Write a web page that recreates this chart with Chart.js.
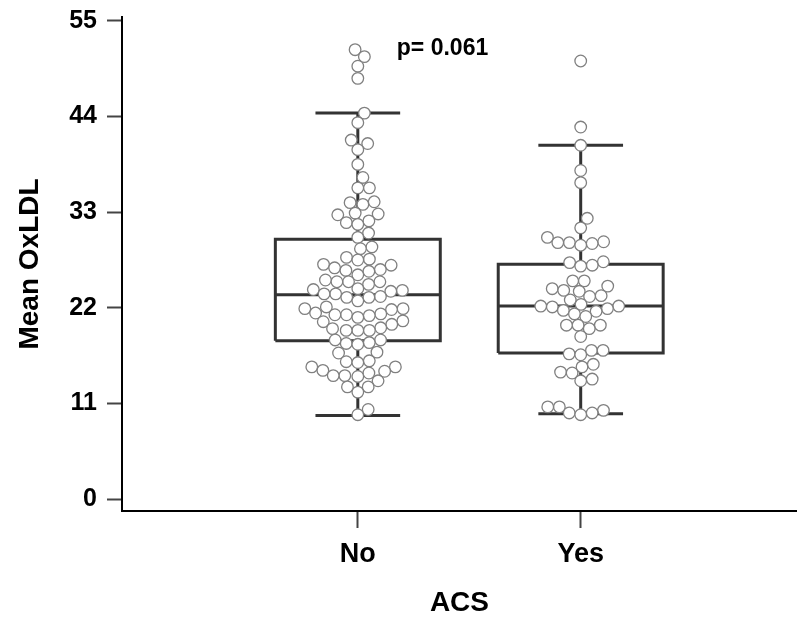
<!DOCTYPE html>
<html>
<head>
<meta charset="utf-8">
<script src="https://cdn.jsdelivr.net/npm/chart.js@4/dist/chart.umd.min.js"></script>
<style>
  html, body { margin: 0; padding: 0; background: #fff; }
  #wrap { width: 804px; height: 617px; }
</style>
</head>
<body>
<div id="wrap"><canvas id="oxChart"></canvas></div>
<script>
// values
const categories = ["No", "Yes"];
const yTickValues = [0, 11, 22, 33, 44, 55];

const noValues = [
    51.7, 50.9, 49.8, 48.4, 44.4, 43.3, 41.3, 40.9, 40.2, 38.5, 37.0, 35.8, 35.8,
    34.2, 34.1, 33.9, 32.9, 32.8, 32.7, 32.0, 31.8, 31.6,
    30.6, 30.1, 29.0, 28.8, 27.8, 27.6, 27.5, 27.0, 26.9,
    26.6, 26.4, 26.3, 26.2, 25.8, 25.2, 25.0, 25.0, 25.0, 24.7,
    24.2, 24.1, 24.0, 23.9, 23.6, 23.6, 23.3, 23.2, 23.2, 22.8,
    22.1, 21.9, 21.9, 21.8, 21.4, 21.3, 21.2, 21.2, 21.1,
    20.9, 20.5, 20.4, 20.1, 19.7, 19.6, 19.4, 19.4, 19.4,
    18.3, 18.3, 18.0, 17.9, 17.8, 16.9, 16.8, 15.9, 15.8, 15.7,
    15.2, 15.2, 14.8, 14.7, 14.5, 14.2, 14.2, 14.1, 13.6,
    12.9, 12.9, 12.3, 10.3, 9.7
];
const yesValues = [
    50.4, 42.8, 40.7, 37.8, 36.4, 32.3, 31.2, 30.1, 29.6, 29.5, 29.5, 29.4, 29.2,
    27.3, 27.2, 26.9, 26.8, 25.1, 25.1, 24.5, 24.2, 24.0, 23.9, 23.4, 23.3, 22.9,
    22.4, 22.2, 22.2, 22.1, 21.9, 21.7, 21.6, 21.3, 21.0,
    20.0, 20.0, 20.0, 19.6, 18.7, 17.1, 17.1, 16.7, 16.6, 15.5, 15.2, 14.6, 14.5,
    13.8, 13.6, 10.6, 10.6, 10.2, 9.9, 9.9, 9.7
];

const whiskerLow = [9.6, 9.8];
const boxQ1 = [18.2, 16.8];
const boxMedian = [23.5, 22.2];
const boxQ3 = [29.9, 27.0];
const whiskerHigh = [44.4, 40.7];
const pValueText = "p= 0.061";

Chart.defaults.font.family = "'Liberation Sans', Arial, sans-serif";
Chart.defaults.color = "#000";

const BOX_HALF = 0.37;   // box half width, in category units
const CAP_HALF = 0.19;   // whisker cap half width
const DOT_R = 5.8;

// box outlines, medians and whiskers as one broken line
function buildBoxSegments() {
    const pts = [];
    const seg = (arr) => { arr.forEach(p => pts.push(p)); pts.push({ x: arr[0].x, y: null }); };
    categories.forEach((c, i) => {
        const x = i + 1;
        seg([
            { x: x - BOX_HALF, y: boxQ1[i] }, { x: x + BOX_HALF, y: boxQ1[i] },
            { x: x + BOX_HALF, y: boxQ3[i] }, { x: x - BOX_HALF, y: boxQ3[i] },
            { x: x - BOX_HALF, y: boxQ1[i] }
        ]);
        seg([{ x: x - BOX_HALF, y: boxMedian[i] }, { x: x + BOX_HALF, y: boxMedian[i] }]);
        seg([{ x: x, y: boxQ3[i] }, { x: x, y: whiskerHigh[i] }]);
        seg([{ x: x - CAP_HALF, y: whiskerHigh[i] }, { x: x + CAP_HALF, y: whiskerHigh[i] }]);
        seg([{ x: x, y: boxQ1[i] }, { x: x, y: whiskerLow[i] }]);
        seg([{ x: x - CAP_HALF, y: whiskerLow[i] }, { x: x + CAP_HALF, y: whiskerLow[i] }]);
    });
    return pts;
}

// simple beeswarm: place each dot as close to the centre line as it can go
function swarmOffsets(values, yScale, d) {
    const placed = [];
    const out = new Array(values.length).fill(0);
    const order = values.map((v, i) => i).sort((a, b) => values[a] - values[b]);
    order.forEach(i => {
        const py = yScale.getPixelForValue(values[i]);
        const near = placed.filter(p => Math.abs(p.py - py) < d);
        const cands = [0];
        near.forEach(p => {
            const h = Math.sqrt(d * d - (p.py - py) * (p.py - py));
            cands.push(p.dx + h, p.dx - h);
        });
        cands.sort((a, b) => Math.abs(a) - Math.abs(b));
        const dx = cands.find(c => near.every(p => (p.dx - c) ** 2 + (p.py - py) ** 2 >= d * d - 0.01));
        out[i] = dx;
        placed.push({ py, dx });
    });
    return out;
}

const groups = [noValues, yesValues];
const dotData = [];
groups.forEach((vals, i) => vals.forEach(v => dotData.push({ x: i + 1, y: v })));

const pValuePlugin = {
    id: 'pValue',
    afterDatasetsDraw(chart) {
        const { ctx, scales: { x, y } } = chart;
        ctx.save();
        ctx.font = "bold 23px 'Liberation Sans', Arial, sans-serif";
        ctx.fillStyle = '#000';
        ctx.textAlign = 'center';
        ctx.textBaseline = 'middle';
        ctx.fillText(pValueText, x.getPixelForValue(1.38), y.getPixelForValue(51.8));
        ctx.restore();
    }
};

const ctx = document.getElementById('oxChart').getContext('2d');
const chart = new Chart(ctx, {
    type: 'scatter',
    data: {
        datasets: [
            {
                label: 'points',
                data: dotData,
                order: 0,
                pointRadius: DOT_R,
                pointBorderWidth: 1.3,
                pointBorderColor: '#808080',
                pointBackgroundColor: '#fff'
            },
            {
                label: 'boxes',
                type: 'line',
                data: buildBoxSegments(),
                order: 1,
                showLine: true,
                spanGaps: false,
                borderColor: '#333',
                borderWidth: 3,
                borderJoinStyle: 'miter',
                pointRadius: 0,
                tension: 0
            }
        ]
    },
    options: {
        responsive: true,
        maintainAspectRatio: false,
        animation: false,
        events: [],
        layout: { padding: { top: 17, left: 0, right: 0, bottom: 0 } },
        plugins: {
            legend: { display: false },
            tooltip: { enabled: false }
        },
        scales: {
            x: {
                type: 'linear',
                min: -0.058,
                max: 2.97,
                afterBuildTicks: (scale) => { scale.ticks = categories.map((c, i) => ({ value: i + 1 })); },
                afterFit: (scale) => {
                    scale.height = 106;
                    scale.paddingLeft = 0;
                    scale.paddingRight = 0;
                },
                ticks: {
                    font: { size: 27, weight: 'bold' },
                    padding: 10,
                    callback: (v) => categories[v - 1]
                },
                grid: { drawOnChartArea: false, drawTicks: true, tickLength: 17, tickWidth: 2, tickColor: '#444' },
                border: { display: true, color: '#000', width: 2 },
                title: {
                    display: true,
                    text: 'ACS',
                    font: { size: 28, weight: 'bold', lineHeight: 1 },
                    padding: { top: 0, bottom: 0 }
                }
            },
            y: {
                min: -1.38,
                max: 55.46,
                afterBuildTicks: (scale) => { scale.ticks = yTickValues.map(v => ({ value: v })); },
                afterFit: (scale) => {
                    scale.width = 122;
                    scale.paddingTop = 0;
                    scale.paddingBottom = 0;
                },
                ticks: {
                    font: { size: 25, weight: 'bold' },
                    padding: 10
                },
                grid: { drawOnChartArea: false, drawTicks: true, tickLength: 15, tickWidth: 2, tickColor: '#444' },
                border: { display: true, color: '#000', width: 2 },
                title: {
                    display: true,
                    text: 'Mean OxLDL',
                    font: { size: 28, weight: 'bold', lineHeight: 1 },
                    padding: { top: 16, bottom: 0 }
                }
            }
        }
    },
    plugins: [pValuePlugin]
});

// lay out the swarm now that the scales exist
const xs = chart.scales.x;
const unitPx = xs.getPixelForValue(1) - xs.getPixelForValue(0);
let k = 0;
groups.forEach((vals, i) => {
    const offs = swarmOffsets(vals, chart.scales.y, DOT_R * 2);
    offs.forEach(o => { dotData[k].x = i + 1 + o / unitPx; k++; });
});
chart.update('none');
</script>
</body>
</html>
